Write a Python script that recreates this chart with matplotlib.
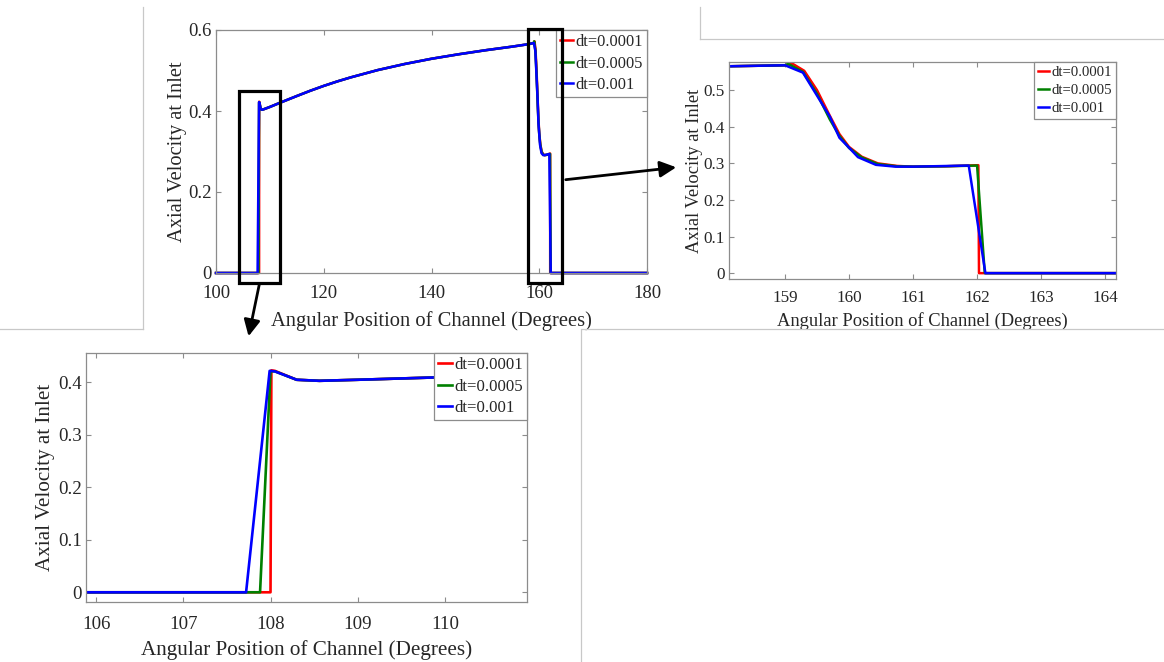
import matplotlib
matplotlib.use("Agg")
import matplotlib.pyplot as plt
from matplotlib.patches import Rectangle, FancyArrowPatch
from matplotlib.lines import Line2D

plt.rcParams['font.family'] = ['Liberation Serif', 'DejaVu Serif']

# ---------------- data ----------------
labels = ["dt=0.0001", "dt=0.0005", "dt=0.001"]
colors = ["#ff0000", "#008000", "#0000ff"]

# leading edge (jump from 0 to peak) for each dt
rise_x_0001 = [100.0, 108.0, 108.01, 108.05]
rise_y_0001 = [0.0, 0.0, 0.423, 0.422]
rise_x_0005 = [100.0, 107.88, 108.0, 108.05]
rise_y_0005 = [0.0, 0.0, 0.421, 0.421]
rise_x_001 = [100.0, 107.72, 107.99, 108.05]
rise_y_001 = [0.0, 0.0, 0.422, 0.421]

# common body of the curve (all dt identical)
body_x = [108.3, 108.56, 109.0, 110.0, 112.0, 115.0, 117.5, 120.0, 122.5,
          125.0, 130.0, 135.0, 140.0, 145.0, 150.0, 155.0, 158.0, 159.0]
body_y = [0.405, 0.403, 0.405, 0.410, 0.421, 0.437, 0.450, 0.462, 0.473,
          0.483, 0.501, 0.516, 0.529, 0.540, 0.550, 0.559, 0.565, 0.568]

# trailing edge (drop) for each dt
fall_x_0001 = [159.12, 159.3, 159.5, 159.7, 159.85, 160.0, 160.2, 160.45,
               160.75, 161.0, 161.5, 162.02, 162.03, 180.0]
fall_y_0001 = [0.572, 0.553, 0.500, 0.430, 0.380, 0.345, 0.318, 0.300,
               0.293, 0.291, 0.292, 0.295, 0.0, 0.0]
fall_x_0005 = [159.05, 159.28, 159.5, 159.7, 159.85, 160.0, 160.2, 160.45,
               160.75, 161.0, 161.5, 162.0, 162.12, 180.0]
fall_y_0005 = [0.572, 0.550, 0.490, 0.420, 0.375, 0.342, 0.316, 0.298,
               0.292, 0.291, 0.292, 0.294, 0.0, 0.0]
fall_x_001 = [159.28, 159.7, 159.85, 160.0, 160.14, 160.42, 160.73, 161.0,
              161.87, 162.13, 180.0]
fall_y_001 = [0.548, 0.428, 0.370, 0.343, 0.317, 0.296, 0.291, 0.291,
              0.294, 0.0, 0.0]

series = [
    (rise_x_0001 + body_x + fall_x_0001, rise_y_0001 + body_y + fall_y_0001),
    (rise_x_0005 + body_x + fall_x_0005, rise_y_0005 + body_y + fall_y_0005),
    (rise_x_001 + body_x + fall_x_001, rise_y_001 + body_y + fall_y_001),
]

main_xticks = [100, 120, 140, 160, 180]
main_yticks = [0, 0.2, 0.4, 0.6]
right_xticks = [159, 160, 161, 162, 163, 164]
right_yticks = [0, 0.1, 0.2, 0.3, 0.4, 0.5]
bot_xticks = [106, 107, 108, 109, 110]
bot_yticks = [0, 0.1, 0.2, 0.3, 0.4]

xlabel = "Angular Position of Channel (Degrees)"
ylabel = "Axial Velocity at Inlet"

# ---------------- figure ----------------
W, H = 1164, 662
fig = plt.figure(figsize=(W / 100, H / 100), dpi=100)

def rect_px(l, t, r, b):
    return [l / W, 1 - b / H, (r - l) / W, (b - t) / H]

SPINE = "#8c8c8c"
TXT = "#262626"

def style(ax, fs_tick, xt, yt, xpad):
    for s in ax.spines.values():
        s.set_color(SPINE)
        s.set_linewidth(0.9)
    ax.tick_params(direction="in", top=True, right=True, length=3.5,
                   width=0.8, color=SPINE, labelcolor=TXT, labelsize=fs_tick)
    ax.tick_params(axis="x", pad=xpad)
    ax.tick_params(axis="y", pad=3)
    ax.set_xticks(xt)
    ax.set_yticks(yt)
    ax.set_yticklabels(["0" if v == 0 else "%g" % v for v in yt])
    ax.set_xticklabels([str(v) for v in xt])

def add_legend(ax, fs):
    leg = ax.legend(loc="upper right", fontsize=fs, frameon=True, fancybox=False,
                    framealpha=1.0, borderaxespad=0, borderpad=0.25,
                    handlelength=0.8, handletextpad=0.15, labelspacing=0.33)
    fr = leg.get_frame()
    fr.set_edgecolor(SPINE)
    fr.set_linewidth(0.9)
    for t in leg.get_texts():
        t.set_color(TXT)
    return leg

# main axes
ax = fig.add_axes(rect_px(216, 30, 647, 273))
for (x, y), c, lab in zip(series, colors, labels):
    ax.plot(x, y, color=c, lw=1.8, label=lab, clip_on=False)
ax.set_xlim(100, 180)
ax.set_ylim(0, 0.6)
style(ax, 13.5, main_xticks, main_yticks, 9)
ax.set_xlabel(xlabel, fontsize=14.8, color=TXT, labelpad=6)
ax.set_ylabel(ylabel, fontsize=14.8, color=TXT, labelpad=1)
add_legend(ax, 11.8)
# zoom boxes
ax.add_patch(Rectangle((104.3, -0.025), 7.6, 0.474, fill=False, ec="black",
                       lw=2.3, clip_on=False, zorder=10))
ax.add_patch(Rectangle((157.85, -0.025), 6.42, 0.628, fill=False, ec="black",
                       lw=2.3, clip_on=False, zorder=10))

# right inset
ax2 = fig.add_axes(rect_px(729, 62, 1116, 279))
for (x, y), c, lab in zip(series, colors, labels):
    ax2.plot(x, y, color=c, lw=1.8, label=lab)
ax2.set_xlim(158.125, 164.17)
ax2.set_ylim(-0.016, 0.577)
style(ax2, 12.3, right_xticks, right_yticks, 8)
ax2.set_xlabel(xlabel, fontsize=13.3, color=TXT, labelpad=4)
ax2.set_ylabel(ylabel, fontsize=13.3, color=TXT, labelpad=0)
add_legend(ax2, 10.6)

# bottom inset
ax3 = fig.add_axes(rect_px(86, 353, 527, 602))
for (x, y), c, lab in zip(series, colors, labels):
    ax3.plot(x, y, color=c, lw=1.9, label=lab)
ax3.set_xlim(105.885, 110.94)
ax3.set_ylim(-0.0185, 0.456)
style(ax3, 13.6, bot_xticks, bot_yticks, 10)
ax3.set_xlabel(xlabel, fontsize=15.2, color=TXT, labelpad=5)
ax3.set_ylabel(ylabel, fontsize=15.2, color=TXT, labelpad=2)
add_legend(ax3, 12.1)

# arrows (figure pixel coordinates)
def fpx(x, y):
    return (x / W, 1 - y / H)

for (x0, y0), (x1, y1) in [((563, 180), (679, 167)), ((260, 281), (248, 339))]:
    fig.add_artist(FancyArrowPatch(fpx(x0, y0), fpx(x1, y1),
                                   transform=fig.transFigure,
                                   arrowstyle="-|>,head_length=7,head_width=3.5",
                                   mutation_scale=1.4, lw=2.0, color="black"))

# light grey frame lines of the composed figure
GREY = "#c8c8c8"
frame_lines = [
    ((143, 143), (7, 329)), ((0, 143), (329, 329)),
    ((700, 700), (7, 39)), ((700, 1164), (39, 39)),
    ((582, 1164), (329, 329)), ((581, 581), (329, 662)),
]
for xs, ys in frame_lines:
    fig.add_artist(Line2D([x / W for x in xs], [1 - y / H for y in ys],
                          transform=fig.transFigure, color=GREY, lw=0.9))

fig.savefig("out.png", dpi=100)
